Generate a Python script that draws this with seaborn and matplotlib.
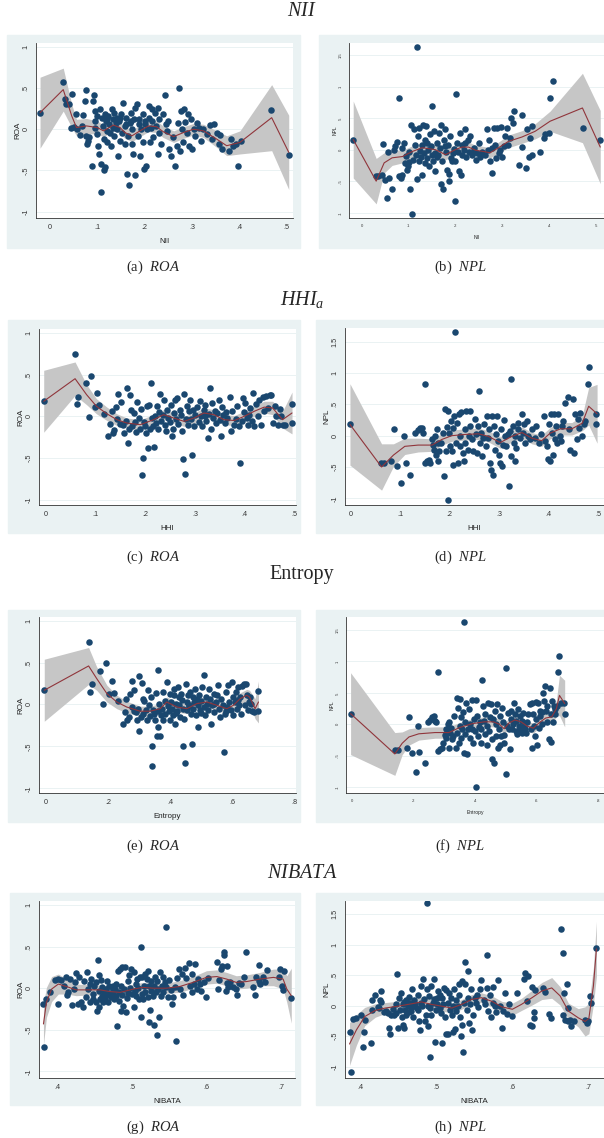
import numpy as np
import pandas as pd
import seaborn as sns
import matplotlib.pyplot as plt
from matplotlib.patches import Rectangle

# ---------------- data ----------------
# scatter points (x, y) per panel
roa_nii = [(-.021,.2),(.028,.57),(.032,.37),(.033,.30),(.041,.30),(.046,.43),(.044,.02),(.051,.03),(.055,.19),(.058,0),
           (.063,-.07),(.067,.04),(.069,.17),(.074,.34),(.076,.48),(.077,-.08),(.079,-.18),(.081,-.14),(.083,-.09),(.088,-.44),
           (.090,.34),(.093,.42),(.095,.22),(.094,.1),(.096,.01),(.099,.16),(.1,-.06),(.102,-.2),(.104,-.3),(.106,.24),
           (.107,-.42),(.108,-.76),(.109,.14),(.111,.04),(.113,-.12),(.114,-.5),(.116,-.46),(.116,.18),(.118,.1),(.12,-.02),
           (.121,-.16),(.123,.16),(.125,.06),(.127,-.04),(.129,-.2),(.13,.24),(.132,.12),(.134,.02),(.136,-.08),(.139,.08),
           (.141,.14),(.142,0),(.144,-.32),(.147,-.14),(.148,.13),(.15,.18),(.153,-.04),(.155,.32),(.158,-.18),(.158,.04),
           (.161,.14),(.162,-.54),(.164,-.08),(.166,-.68),(.169,.08),(.170,.2),(.173,-.18),(.174,0),(.176,-.3),(.177,.12),
           (.180,-.56),(.18,.26),(.183,.3),(.185,-.08),(.187,.06),(.19,-.32),(.192,0),(.196,.18),(.197,-.16),(.199,-.48),
           (.201,.1),(.203,-.44),(.204,0),(.208,.28),(.210,.14),(.211,-.16),(.213,.02),(.216,.24),(.218,-.1),(.222,.2),
           (.224,.04),(.227,-.3),(.229,.26),(.231,-.04),(.235,-.18),(.239,.18),(.243,.42),(.245,.06),(.248,-.02),(.252,-.24),
           (.255,-.32),(.259,-.1),(.264,-.44),(.268,-.2),(.270,.08),(.273,.5),(.275,-.26),(.276,.22),(.278,0),(.280,-.16),
           (.283,.25),(.285,.09),(.289,-.04),(.292,.18),(.294,-.2),(.297,.12),(.3,-.24),(.303,0),(.306,-.08),(.310,.08),
           (.315,.02),(.319,-.14),(.324,0),(.331,-.06),(.338,.05),(.343,-.12),(.347,.06),(.352,-.04),(.356,-.18),(.359,-.07),
           (.363,-.24),(.377,-.26),(.382,-.12),(.387,-.2),(.393,-.18),(.397,-.44),(.403,-.14),(.466,.23),(.504,-.31),
           (.12,.12),(.135,.2),(.145,.1),(.16,.06),(.172,.1),(.188,.12),(.2,.06),(.215,.1),(.23,.12),(.25,.1)]
npl_nii = [(-.018,.16),(.031,-.42),(.035,-.42),(.043,-.4),(.045,.09),(.05,-.48),(.053,-.76),(.058,-.45),(.057,-.04),(.065,-.63),
           (.07,0),(.072,.06),(.076,.12),(.080,.82),(.080,-.42),(.083,-.45),(.085,.03),(.087,-.4),(.09,.1),(.092,-.21),
           (.095,-.1),(.097,-.32),(.099,-.26),(.101,-.04),(.104,-.63),(.106,.39),(.108,-1.02),(.110,-.16),(.111,.32),(.113,.08),
           (.115,-.08),(.117,-.46),(.118,1.62),(.120,.21),(.122,-.18),(.123,.34),(.126,-.11),(.128,.08),(.129,-.4),(.131,.39),
           (.133,-.05),(.135,-.21),(.136,.16),(.138,.37),(.14,-.13),(.142,0),(.143,-.26),(.145,.24),(.147,.05),(.149,-.09),
           (.150,.69),(.152,-.18),(.154,.29),(.156,-.05),(.157,-.34),(.160,.1),(.162,-.08),(.165,.26),(.167,.03),(.169,.39),
           (.170,-.55),(.172,-.18),(.174,-.63),(.175,.16),(.177,.32),(.18,-.03),(.182,-.32),(.184,.08),(.186,-.38),(.187,-.5),
           (.189,.21),(.191,-.13),(.193,-.18),(.196,.01),(.199,-.18),(.2,-.82),(.201,.88),(.204,.1),(.206,-.03),(.207,-.34),
           (.209,.27),(.211,-.41),(.213,-.08),(.214,.08),(.218,0),(.221,.33),(.223,-.11),(.226,.16),(.228,-.03),(.232,.22),
           (.235,-.08),(.239,.03),(.243,-.16),(.246,-.05),(.250,.1),(.253,-.11),(.257,-.03),(.264,-.08),(.267,.32),(.27,0),
           (.272,.16),(.274,-.18),(.277,-.37),(.279,.03),(.282,.34),(.284,.08),(.287,-.13),(.289,.34),(.292,-.05),(.296,0),
           (.298,.36),(.299,-.11),(.303,.05),(.306,.21),(.31,.34),(.313,.08),(.317,.18),(.319,.5),(.322,.42),(.325,.61),
           (.335,-.24),(.342,.04),(.343,.55),(.35,-.29),(.353,.32),(.356,-.11),(.36,.18),(.363,.37),(.363,-.08),(.381,-.03),
           (.388,.18),(.391,.25),(.399,.26),(.402,.82),(.409,1.09),(.472,.34),(.509,.16),
           (.1,-.2),(.125,-.02),(.14,.1),(.16,-.12),(.178,.06),(.195,-.06),(.22,.1),(.24,-.02)]
roa_hhi = [(-.004,.18),(.059,.74),(.062,.15),(.065,.23),(.081,.4),(.086,-.01),(.091,.48),(.099,.11),(.104,.28),(.108,.14),
           (.118,.03),(.126,-.23),(.129,-.09),(.133,.06),(.135,-.2),(.138,-.16),(.142,.11),(.144,-.03),(.146,.27),(.150,-.09),
           (.152,.17),(.155,-.1),(.158,-.2),(.162,-.06),(.164,.34),(.165,-.32),(.168,-.15),(.170,.25),(.172,.07),(.174,-.12),
           (.177,.04),(.179,-.07),(.181,-.19),(.183,.17),(.187,-.02),(.189,-.15),(.191,.09),(.193,-.7),(.195,-.5),(.197,-.07),
           (.199,-.12),(.201,-.2),(.204,.12),(.206,-.38),(.207,.14),(.209,-.15),(.212,.4),(.214,-.02),(.216,-.11),(.217,-.37),
           (.219,0),(.222,-.08),(.224,.12),(.226,-.15),(.228,.05),(.230,.27),(.232,-.06),(.236,.01),(.237,.2),(.239,-.1),
           (.242,-.18),(.244,.08),(.246,-.02),(.249,-.07),(.251,.14),(.253,-.23),(.255,-.15),(.257,.04),(.260,.2),(.262,-.03),
           (.264,.22),(.266,-.09),(.269,.08),(.271,.01),(.274,-.17),(.276,-.51),(.278,.27),(.279,-.69),(.281,-.03),(.283,.12),
           (.286,-.1),(.288,.06),(.290,.2),(.292,-.03),(.294,-.46),(.296,.08),(.299,-.11),(.301,.02),(.305,.11),(.308,-.07),
           (.310,.18),(.313,0),(.315,-.12),(.318,.08),(.320,.13),(.321,0),(.323,-.06),(.326,-.26),(.328,.03),(.330,.34),
           (.332,-.15),(.335,.16),(.337,-.02),(.340,.06),(.342,-.08),(.345,.04),(.348,.19),(.350,-.04),(.353,-.23),(.355,.11),
           (.357,.01),(.360,-.08),(.363,.05),(.365,-.02),(.371,.23),(.373,-.18),(.375,.06),(.379,-.1),(.382,-.03),(.385,.12),
           (.389,-.12),(.391,-.56),(.394,-.06),(.396,.22),(.399,.05),(.401,.16),(.404,-.02),(.406,-.1),(.409,.01),(.411,.1),
           (.414,-.06),(.416,.28),(.419,-.12),(.423,.15),(.426,0),(.429,.2),(.433,-.1),(.436,.23),(.439,.06),(.443,.24),
           (.446,.1),(.450,.26),(.453,.25),(.456,-.08),(.460,.12),(.463,0),(.466,-.1),(.470,.09),(.473,0),(.476,-.1),
           (.480,-.1),(.495,.15),(.495,-.08)]
npl_hhi = [(-.002,.18),(.061,-.43),(.066,-.43),(.082,-.4),(.088,.1),(.093,-.48),(.101,-.76),(.108,-.01),(.111,-.43),(.120,-.63),
           (.130,.04),(.135,.09),(.140,.12),(.143,.12),(.145,.04),(.149,.83),(.149,-.44),(.153,-.4),(.157,-.39),(.160,-.43),
           (.164,-.06),(.166,-.15),(.168,-.23),(.170,-.01),(.172,-.31),(.174,.1),(.176,-.11),(.177,-.41),(.179,-.24),(.182,-.12),
           (.186,.04),(.189,-.65),(.191,.42),(.193,-.25),(.194,.14),(.196,-1.03),(.197,.39),(.199,.04),(.201,-.17),(.203,.23),
           (.204,-.25),(.206,.12),(.207,-.47),(.209,.31),(.211,1.66),(.213,-.12),(.214,.2),(.216,-.44),(.218,.34),(.220,-.01),
           (.221,-.17),(.223,.38),(.226,-.28),(.228,-.41),(.230,.1),(.231,-.12),(.233,.39),(.236,-.23),(.238,-.01),(.240,.15),
           (.241,.39),(.245,-.06),(.247,-.25),(.250,.26),(.253,.02),(.255,-.28),(.257,.15),(.259,.72),(.261,-.12),(.264,.05),
           (.266,-.33),(.268,-.04),(.270,.18),(.273,-.17),(.275,.31),(.278,-.04),(.280,.1),(.282,-.44),(.284,-.55),(.285,.31),
           (.287,-.63),(.289,.15),(.291,-.23),(.293,.02),(.295,.31),(.297,-.09),(.299,-.31),(.301,-.43),(.303,.1),(.305,-.49),
           (.307,-.15),(.310,.25),(.312,-.01),(.314,-.17),(.317,.02),(.319,-.81),(.321,.07),(.324,.9),(.324,-.33),(.327,.15),
           (.329,-.12),(.331,-.01),(.332,-.41),(.334,-.2),(.337,.2),(.339,.1),(.343,-.04),(.346,.34),(.348,.04),(.351,.18),
           (.353,-.12),(.356,.23),(.359,-.01),(.363,-.06),(.366,.1),(.372,-.04),(.375,.15),(.380,-.12),(.385,.02),(.390,.31),
           (.393,-.09),(.397,-.17),(.399,-.38),(.4,.18),(.402,-.4),(.405,.34),(.407,.04),(.408,-.31),(.410,.34),(.412,-.06),
           (.415,.15),(.417,-.12),(.419,.35),(.422,-.01),(.424,-.09),(.427,.15),(.430,.23),(.434,.53),(.439,.62),(.441,.1),
           (.444,-.23),(.449,.58),(.451,-.27),(.454,.34),(.457,-.06),(.459,.26),(.462,.12),(.464,.37),(.468,0),(.471,.18),
           (.474,.23),(.480,.83),(.482,1.1),(.495,.34),(.496,.18)]
roa_ent = [(-.006,.17),(.137,.74),(.142,.15),(.147,.24),(.174,.4),(.183,0),(.192,.49),(.204,.12),(.212,.28),(.219,.14),
           (.233,.04),(.247,-.23),(.253,-.09),(.258,.06),(.262,-.19),(.266,-.15),(.271,.12),(.276,-.03),(.278,.28),(.282,-.08),
           (.285,.17),(.289,-.09),(.292,-.19),(.296,-.05),(.301,.34),(.301,-.32),(.305,-.15),(.308,.26),(.312,.07),(.314,-.11),
           (.317,.04),(.322,-.07),(.325,-.18),(.328,.17),(.332,-.01),(.335,-.14),(.339,.09),(.341,-.73),(.343,-.5),(.346,-.07),
           (.349,-.11),(.352,-.19),(.355,.14),(.357,-.38),(.360,-.27),(.362,.41),(.365,0),(.368,-.38),(.371,-.13),(.373,-.05),
           (.376,.15),(.378,-.18),(.382,.04),(.384,-.11),(.389,.27),(.392,-.02),(.395,-.08),(.398,.12),(.4,-.19),(.403,.03),
           (.405,-.05),(.409,-.13),(.411,.11),(.414,.18),(.416,-.23),(.419,.01),(.422,-.08),(.425,.21),(.427,.09),(.430,-.01),
           (.432,-.15),(.435,.13),(.438,.05),(.441,-.05),(.443,-.5),(.445,-.17),(.448,-.7),(.451,.25),(.454,.03),(.456,-.07),
           (.459,.11),(.462,-.01),(.465,.15),(.468,-.11),(.470,-.47),(.473,.09),(.475,-.05),(.478,.03),(.481,.19),(.484,-.13),
           (.486,.07),(.489,-.01),(.491,-.27),(.494,.11),(.497,-.07),(.5,.04),(.503,.21),(.508,.35),(.510,-.03),(.513,-.13),
           (.516,.09),(.518,.01),(.522,-.07),(.526,.19),(.529,.07),(.532,-.23),(.535,-.01),(.540,.13),(.543,-.09),(.547,.03),
           (.551,.11),(.556,.23),(.559,-.05),(.561,-.15),(.565,.07),(.569,-.01),(.574,-.57),(.577,-.11),(.581,.15),(.585,-.03),
           (.588,.23),(.591,.03),(.596,-.07),(.599,.27),(.602,.09),(.604,-.13),(.608,.03),(.611,.15),(.615,-.05),(.618,.21),
           (.623,-.01),(.626,.09),(.629,-.11),(.633,.22),(.637,.25),(.640,-.01),(.644,.25),(.647,.11),(.651,-.07),(.655,.03),
           (.658,.09),(.663,-.08),(.669,-.09),(.683,.16),(.685,-.08),
           (.42,-.1),(.46,-.02),(.5,-.1),(.54,.0),(.58,-.08),(.62,.05),(.66,.0),(.36,-.08)]
npl_ent = [(-.005,.17),(.139,-.41),(.149,-.41),(.177,-.38),(.185,.11),(.195,-.46),(.208,-.75),(.217,-.44),(.215,-.03),(.237,-.62),
           (.248,.04),(.255,.07),(.261,.11),(.268,.13),(.271,.05),(.274,.04),(.279,.83),(.280,-.42),(.286,-.39),(.291,-.37),
           (.296,-.29),(.302,-.17),(.304,-.08),(.307,-.21),(.312,0),(.315,.03),(.315,-.37),(.318,-.13),(.322,-.05),(.326,-.24),
           (.329,-.18),(.333,.13),(.337,-.38),(.34,.42),(.342,-.13),(.345,.26),(.347,-.29),(.350,.41),(.351,-.03),(.353,-.21),
           (.356,.11),(.358,-.08),(.361,.19),(.364,1.63),(.364,-.46),(.367,-.16),(.369,.03),(.371,.34),(.375,-.47),(.377,-.08),
           (.380,.24),(.383,-.21),(.385,0),(.389,.38),(.391,-.08),(.394,-.29),(.396,.08),(.4,-.11),(.402,-1.0),(.404,.39),
           (.407,.13),(.409,-.18),(.413,-.04),(.416,.04),(.418,-.29),(.421,-.08),(.423,.7),(.426,.29),(.429,.05),(.432,-.16),
           (.434,.16),(.438,-.32),(.440,-.03),(.443,.34),(.445,-.11),(.448,.11),(.451,.32),(.454,-.24),(.456,-.55),(.458,.08),
           (.461,-.61),(.464,.21),(.467,-.18),(.469,0),(.472,.32),(.474,-.37),(.478,-.08),(.480,-.32),(.483,.13),(.486,-.19),
           (.489,.26),(.492,.03),(.494,-.29),(.496,-.17),(.5,-.79),(.502,.89),(.503,-.03),(.507,.18),(.510,-.08),(.513,-.39),
           (.516,.08),(.518,.21),(.521,-.08),(.524,0),(.528,.34),(.530,.16),(.532,-.11),(.535,.05),(.537,-.16),(.541,.24),
           (.543,-.03),(.545,.13),(.548,-.08),(.552,.05),(.554,-.13),(.557,.18),(.559,-.03),(.562,-.08),(.567,-.14),(.570,.03),
           (.573,.16),(.578,.32),(.581,-.08),(.584,.34),(.586,-.37),(.590,.16),(.592,-.03),(.595,-.18),(.597,.35),(.600,.08),
           (.603,-.33),(.606,.34),(.608,-.05),(.611,.21),(.613,.13),(.617,0),(.619,.19),(.621,.5),(.624,.37),(.628,.61),
           (.630,.21),(.633,.29),(.636,.03),(.641,-.24),(.643,.58),(.646,-.28),(.649,.16),(.651,.37),(.654,.03),(.657,.29),
           (.660,.24),(.662,.16),(.668,.29),(.671,.83),(.673,1.09),(.679,.34),(.692,.17),(.689,.34)]
roa_nib = [(.381,-.19),(.382,-.71),(.385,-.13),(.390,-.05),(.396,.1),(.4,-.19),(.401,.11),(.404,.1),(.408,.03),(.411,.14),
           (.412,-.08),(.414,-.05),(.417,.11),(.420,-.2),(.422,-.01),(.423,.07),(.425,.18),(.427,-.19),(.429,.13),(.431,-.17),
           (.434,-.23),(.435,.09),(.438,-.1),(.439,.19),(.441,-.01),(.443,.05),(.443,-.17),(.445,.11),(.447,-.07),(.448,-.13),
           (.449,.03),(.451,.08),(.452,-.17),(.453,-.27),(.454,.34),(.455,.16),(.456,-.23),(.456,-.03),(.457,-.13),(.458,.1),
           (.459,-.09),(.460,.01),(.461,-.17),(.463,-.05),(.464,-.13),(.465,-.01),(.466,.09),(.467,-.08),(.468,-.17),(.469,.03),
           (.470,-.06),(.472,-.11),(.473,.01),(.474,-.05),(.475,.03),(.476,-.13),(.477,-.01),(.478,-.09),(.479,.05),(.480,-.46),
           (.481,.21),(.482,-.15),(.482,-.05),(.484,.23),(.485,-.27),(.485,.03),(.486,-.08),(.487,.25),(.488,-.21),(.489,-.01),
           (.490,.25),(.492,-.29),(.493,-.12),(.494,.09),(.495,-.06),(.496,.16),(.497,0),(.499,.23),(.500,-.07),(.502,-.22),
           (.503,.19),(.504,-.03),(.505,.05),(.506,-.09),(.507,.11),(.508,0),(.510,-.13),(.511,.14),(.512,.49),(.512,-.34),
           (.513,-.07),(.514,.14),(.515,-.13),(.516,.03),(.517,.17),(.518,-.05),(.520,.11),(.521,-.11),(.522,.21),(.523,-.41),
           (.523,.03),(.524,-.26),(.525,-.03),(.526,.09),(.528,-.09),(.529,-.44),(.529,.03),(.531,.14),(.532,-.05),(.533,-.56),
           (.534,.09),(.535,-.01),(.536,-.35),(.537,.19),(.539,-.09),(.540,.03),(.541,.13),(.542,-.05),(.544,.07),(.546,.74),
           (.546,.01),(.548,-.11),(.550,.1),(.552,-.02),(.554,-.19),(.555,-.1),(.558,.02),(.559,-.63),(.561,.12),(.563,.23),
           (.565,-.01),(.567,.17),(.569,-.08),(.571,.24),(.573,.12),(.576,.3),(.578,.03),(.580,-.05),(.581,.17),(.583,.05),
           (.584,.29),(.587,-.01),(.589,.11),(.591,.05),(.593,-.03),(.597,.08),(.599,-.1),(.602,.12),(.614,.32),(.616,-.01),
           (.617,.1),(.619,.23),(.621,.27),(.623,.44),(.624,.4),(.626,-.03),(.627,.27),(.628,.06),(.629,.02),(.631,.07),
           (.636,.01),(.640,-.01),(.641,-.08),(.644,.06),(.646,.05),(.651,.13),(.653,.44),(.663,.01),(.665,-.08),(.666,.13),
           (.670,.28),(.671,.09),(.672,.05),(.676,.14),(.679,.08),(.681,.22),(.697,.13),(.699,.23),(.702,.03),(.703,-.02),
           (.704,.21),(.714,-.12)]
npl_nib = [(.385,-.43),(.387,-1.09),(.390,-.22),(.393,-.21),(.4,-.15),(.403,-.68),(.405,-.24),(.404,-.44),(.413,-.61),(.414,.1),
           (.415,-.08),(.419,.17),(.422,-.02),(.424,-.04),(.425,.1),(.426,.06),(.427,.24),(.430,-.11),(.433,-.09),(.436,-.12),
           (.437,-.37),(.438,-.46),(.440,-.15),(.442,-.06),(.444,-.15),(.446,.02),(.447,-.12),(.448,.52),(.449,-.36),(.450,.13),
           (.452,-.07),(.453,.21),(.454,-.18),(.455,.02),(.456,-.32),(.457,-.36),(.457,.06),(.458,-.07),(.459,.1),(.460,-.15),
           (.462,0),(.463,.14),(.464,-.11),(.465,.04),(.466,-.09),(.467,.28),(.468,-.02),(.469,-.18),(.470,.1),(.472,.02),
           (.474,-.04),(.475,.17),(.476,-.08),(.477,-.26),(.478,-.4),(.479,.04),(.480,.32),(.481,-.01),(.482,.44),(.483,.11),
           (.485,-.26),(.486,-.15),(.487,1.68),(.487,.28),(.488,-.01),(.489,-.34),(.490,.16),(.491,-.84),(.491,-.04),(.493,-.15),
           (.493,.32),(.495,.04),(.496,.11),(.497,.44),(.498,-.59),(.499,-.07),(.5,.13),(.501,.02),(.502,.24),(.504,-.04),
           (.504,.17),(.506,-.12),(.507,-.62),(.507,.13),(.509,.02),(.510,.29),(.511,-.18),(.512,-.47),(.513,.26),(.515,.04),
           (.515,-.47),(.516,.21),(.518,-.07),(.519,.13),(.520,-.15),(.521,-.43),(.522,0),(.523,.27),(.524,-.39),(.525,.1),
           (.526,-.09),(.528,-.01),(.529,.35),(.530,.17),(.531,-.18),(.532,-.5),(.533,.41),(.534,-.32),(.535,-.76),(.536,.04),
           (.537,.36),(.538,.72),(.540,-.07),(.541,.57),(.542,.13),(.543,-.29),(.544,.02),(.545,.27),(.547,-.4),(.548,-.15),
           (.550,.13),(.552,.04),(.553,.18),(.555,-.02),(.557,.27),(.559,.42),(.562,.1),(.564,.02),(.566,.83),(.567,.29),
           (.568,-.09),(.570,.17),(.572,-.18),(.574,.04),(.575,.31),(.577,-.01),(.579,-.11),(.581,.42),(.584,-.01),(.586,-.37),
           (.588,-.09),(.590,.2),(.593,-.13),(.596,.02),(.6,-.17),(.606,.2),(.615,.44),(.617,.54),(.619,.08),(.621,.49),
           (.623,-.31),(.626,-.34),(.626,.31),(.628,-.11),(.629,-.21),(.630,.26),(.641,.29),(.643,.22),(.649,-.13),(.651,-.21),
           (.664,1.26),(.667,.86),(.667,-.15),(.668,.2),(.670,-.23),(.672,.35),(.673,-.26),(.674,-.04),(.676,-.23),(.678,-.33),
           (.681,-.26),(.696,-.23),(.698,-.29),(.700,-.26),(.703,.16),(.704,.04),(.711,.94)]

# local polynomial fit: x, fitted value, half width of the 95% band
fit_a_x = [-.021,.028,.046,.056,.077,.1,.113,.134,.148,.158,.173,.19,.208,.225,.239,.261,.282,.303,.324,.352,.373,.401,.468,.504]
fit_a_y = [.2,.48,.16,.02,.04,.02,-.02,.05,.02,-.04,-.08,-.02,.04,.03,-.03,-.09,-.04,0,-.02,-.12,-.2,-.16,.14,-.28]
fit_a_w = [.43,.26,.14,.1,.09,.08,.07,.07,.07,.07,.07,.07,.07,.07,.07,.07,.07,.07,.08,.1,.12,.14,.4,.45]
fit_b_x = [-.018,.031,.048,.065,.087,.108,.129,.157,.179,.2,.214,.228,.243,.26,.274,.292,.313,.342,.37,.402,.471,.509]
fit_b_y = [.16,-.5,-.21,-.13,-.11,-.03,.03,0,-.08,0,.04,.04,-.01,-.03,-.05,.03,.13,.2,.29,.45,.66,.04]
fit_b_w = [.61,.36,.16,.12,.1,.09,.08,.08,.08,.08,.08,.08,.08,.08,.08,.09,.1,.1,.12,.16,.55,.58]
fit_c_x = [-.004,.059,.082,.102,.123,.143,.163,.19,.217,.237,.257,.278,.298,.318,.338,.358,.379,.399,.419,.439,.456,.476,.495]
fit_c_y = [.18,.45,.26,.12,.03,-.04,-.08,-.1,-.04,.02,-.02,-.06,-.02,.04,.02,-.04,-.05,0,.06,.11,.1,-.04,.04]
fit_c_w = [.37,.2,.12,.09,.08,.07,.06,.06,.06,.06,.06,.06,.06,.06,.06,.06,.06,.06,.06,.07,.08,.1,.25]
fit_d_x = [-.002,.062,.086,.109,.136,.164,.184,.204,.231,.258,.278,.302,.326,.346,.366,.386,.403,.424,.447,.468,.481,.498]
fit_d_y = [.18,-.5,-.31,-.17,-.15,-.15,-.06,0,.02,.03,-.01,-.11,-.01,.05,-.04,-.08,.04,.11,.11,.2,.47,.35]
fit_d_w = [.65,.37,.18,.13,.11,.1,.09,.09,.09,.09,.09,.09,.09,.09,.09,.09,.09,.1,.1,.12,.3,.47]
fit_e_x = [-.006,.137,.163,.196,.228,.26,.303,.335,.368,.389,.422,.454,.486,.518,.551,.583,.604,.626,.647,.656,.674,.685]
fit_e_y = [.17,.46,.31,.13,.03,-.03,-.08,-.08,-.05,.03,-.03,-.05,.01,.03,-.01,-.05,-.01,.07,.11,.09,-.05,.03]
fit_e_w = [.37,.22,.14,.1,.08,.07,.06,.06,.06,.06,.06,.06,.06,.06,.06,.06,.06,.07,.07,.08,.12,.25]
fit_f_x = [-.005,.139,.163,.185,.217,.27,.315,.35,.39,.43,.46,.48,.495,.51,.53,.55,.57,.59,.61,.63,.65,.665,.675,.692]
fit_f_y = [.17,-.47,-.3,-.2,-.15,-.13,-.13,-.05,.01,.04,.04,0,-.07,.02,.07,.04,-.03,-.06,.03,.1,.12,.25,.46,.33]
fit_f_w = [.65,.34,.18,.13,.1,.09,.09,.08,.08,.08,.08,.08,.08,.08,.08,.08,.08,.08,.08,.09,.1,.13,.32,.37]
fit_g_x = [.381,.385,.392,.401,.412,.425,.443,.457,.47,.484,.502,.515,.529,.546,.564,.582,.6,.614,.627,.64,.654,.672,.69,.703,.708,.714]
fit_g_y = [-.43,-.17,-.01,.05,.02,-.02,-.02,-.02,-.04,-.05,-.01,.01,0,0,.02,.07,.13,.14,.11,.07,.08,.11,.13,.11,-.01,-.09]
fit_g_w = [.25,.18,.15,.12,.09,.07,.06,.06,.06,.06,.06,.06,.06,.06,.07,.07,.08,.08,.08,.08,.08,.08,.1,.12,.16,.33]
fit_h_x = [.385,.394,.405,.419,.432,.449,.467,.48,.493,.507,.52,.533,.546,.559,.573,.586,.6,.612,.626,.639,.652,.663,.674,.687,.696,.701,.707,.711]
fit_h_y = [-.63,-.4,-.18,-.08,-.04,-.01,.03,.06,.02,-.01,-.04,.02,.1,.13,.07,-.02,-.06,.02,.13,.24,.29,.16,-.09,-.2,-.26,-.21,.32,.93]
fit_h_w = [.35,.25,.15,.11,.09,.08,.08,.08,.08,.08,.08,.08,.08,.08,.09,.09,.1,.1,.12,.14,.17,.15,.13,.15,.24,.25,.3,.45]

roa_ticks = [-1, -.5, 0, .5, 1]
roa_labels = ["-1", "-.5", "0", ".5", "1"]
npl_ticks = [-1, -.5, 0, .5, 1, 1.5]
npl_labels = ["-1", "-.5", "0", ".5", "1", "1.5"]
x05_ticks = [0, .1, .2, .3, .4, .5]
x05_labels = ["0", ".1", ".2", ".3", ".4", ".5"]
x08_ticks = [0, .2, .4, .6, .8]
x08_labels = ["0", ".2", ".4", ".6", ".8"]
xnib_ticks = [.4, .5, .6, .7]
xnib_labels = [".4", ".5", ".6", ".7"]

# ---------------- style ----------------
sns.set_style("white")
plt.rcParams['font.family'] = ['Liberation Sans', 'DejaVu Sans']
plt.rcParams['mathtext.fontset'] = 'custom'
plt.rcParams['mathtext.it'] = 'Liberation Serif:italic'
plt.rcParams['mathtext.rm'] = 'Liberation Serif'

W, H = 604, 1138
fig = plt.figure(figsize=(W / 100, H / 100), dpi=100)
navy = "#1a476f"
maroon = "#90353b"
band = "#c6c6c6"
region = "#eaf2f3"


def frac(x0, y0, x1, y1):
    return [x0 / W, 1 - y1 / H, (x1 - x0) / W, (y1 - y0) / H]


# box, axes, xlim, ylim, data, fit, y ticks, x ticks, labels, small text?
panels = [
    ((7, 35, 300, 248), (36, 43, 293, 218), (-.0295, .513), (-1.076, 1.045), roa_nii,
     (fit_a_x, fit_a_y, fit_a_w), (roa_ticks, roa_labels), (x05_ticks, x05_labels), "NII", "ROA", False),
    ((319, 35, 604, 248), (349, 43, 604, 218), (-.027, .517), (-1.084, 1.69), npl_nii,
     (fit_b_x, fit_b_y, fit_b_w), (npl_ticks, npl_labels), (x05_ticks, x05_labels), "NII", "NPL", True),
    ((8, 320, 300, 533), (39, 329, 296, 505), (-.0135, .503), (-1.06, 1.044), roa_hhi,
     (fit_c_x, fit_c_y, fit_c_w), (roa_ticks, roa_labels), (x05_ticks, x05_labels), "HHI", "ROA", False),
    ((316, 320, 604, 533), (345, 328, 604, 505), (-.012, .512), (-1.107, 1.72), npl_hhi,
     (fit_d_x, fit_d_y, fit_d_w), (npl_ticks, npl_labels), (x05_ticks, x05_labels), "HHI", "NPL", False),
    ((8, 610, 300, 822), (39, 617, 296, 793), (-.023, .806), (-1.056, 1.044), roa_ent,
     (fit_e_x, fit_e_y, fit_e_w), (roa_ticks, roa_labels), (x08_ticks, x08_labels), "Entropy", "ROA", False),
    ((316, 610, 604, 822), (346, 617, 604, 793), (-.02, .82), (-1.09, 1.705), npl_ent,
     (fit_f_x, fit_f_y, fit_f_w), (npl_ticks, npl_labels), (x08_ticks, x08_labels), "Entropy", "NPL", True),
    ((10, 893, 300, 1105), (39, 901, 295, 1078), (.375, .719), (-1.079, 1.048), roa_nib,
     (fit_g_x, fit_g_y, fit_g_w), (roa_ticks, roa_labels), (xnib_ticks, xnib_labels), "NIBATA", "ROA", False),
    ((316, 893, 604, 1105), (345, 901, 604, 1078), (.379, .721), (-1.187, 1.715), npl_nib,
     (fit_h_x, fit_h_y, fit_h_w), (npl_ticks, npl_labels), (xnib_ticks, xnib_labels), "NIBATA", "NPL", False),
]

for box, area, xlim, ylim, pts, fit, yt, xt, xlab, ylab, tiny in panels:
    fig.add_artist(Rectangle((box[0] / W, 1 - box[3] / H), (box[2] - box[0]) / W, (box[3] - box[1]) / H,
                             transform=fig.transFigure, color=region, zorder=0))
    ax = fig.add_axes(frac(*area))
    ax.set_facecolor("white")
    df = pd.DataFrame(pts, columns=["x", "y"])
    fx, fy, fw = (np.array(v) for v in fit)
    ax.fill_between(fx, fy - fw, fy + fw, color=band, linewidth=0, zorder=1)
    sns.scatterplot(data=df, x="x", y="y", ax=ax, color=navy, s=22, linewidth=0, zorder=2)
    sns.lineplot(x=fx, y=fy, ax=ax, color=maroon, linewidth=0.8, sort=False, estimator=None, zorder=3)
    ax.set_xlim(*xlim)
    ax.set_ylim(*ylim)
    fs = 3 if tiny else 5.2
    ax.set_yticks(yt[0])
    ax.set_yticklabels(yt[1], rotation=90, va="center", fontsize=fs, color="#222222")
    ax.set_xticks(xt[0])
    ax.set_xticklabels(xt[1], fontsize=fs, color="#222222")
    ax.tick_params(length=2.5, width=0.5, pad=2, colors="#333333")
    for t in yt[0]:
        ax.axhline(t, color=region, linewidth=0.7, zorder=0)
    for s in ["top", "right"]:
        ax.spines[s].set_visible(False)
    for s in ["left", "bottom"]:
        ax.spines[s].set_linewidth(0.6)
        ax.spines[s].set_color("#333333")
    ax.set_xlabel(xlab, fontsize=fs + 0.6, labelpad=5, color="#222222")
    ax.set_ylabel(ylab, fontsize=fs + 0.6, labelpad=1, color="#222222")

# section titles and sub-captions
titles = [("$NII$", 12), ("$HHI_a$", 299), ("Entropy", 575), ("$NIBATA$", 873)]
for txt, y in titles:
    fig.text(0.5, 1 - y / H, txt, ha="center", va="center", fontsize=14.5, family="Liberation Serif")
captions = [("(a)  $ROA$", 153, 267), ("(b)  $NPL$", 460, 267),
            ("(c)  $ROA$", 153, 557), ("(d)  $NPL$", 460, 557),
            ("(e)  $ROA$", 153, 846), ("(f)  $NPL$", 460, 846),
            ("(g)  $ROA$", 153, 1127), ("(h)  $NPL$", 460, 1127)]
for txt, x, y in captions:
    fig.text(x / W, 1 - y / H, txt, ha="center", va="center", fontsize=10.5, family="Liberation Serif")

fig.savefig("out.png", dpi=100)
